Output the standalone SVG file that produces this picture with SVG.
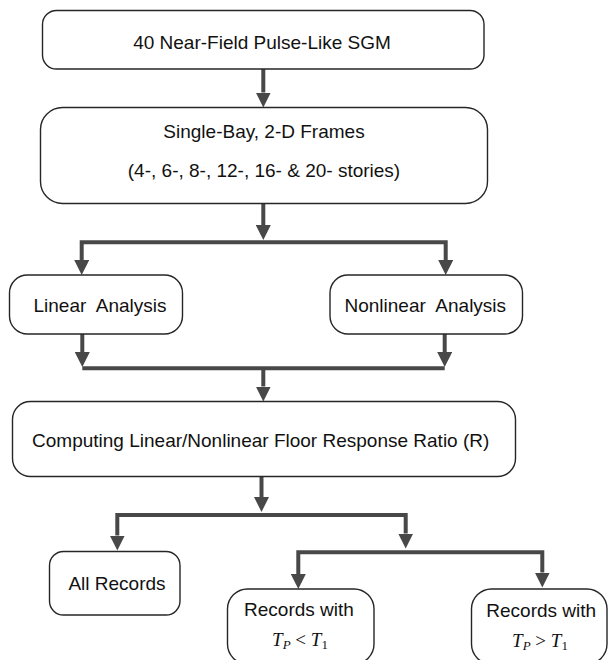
<svg xmlns="http://www.w3.org/2000/svg" width="608" height="660" viewBox="0 0 608 660">
<style>
.box{fill:#fff;stroke:#262626;stroke-width:1.4}
.lbl{font-family:"Liberation Sans",Arial,sans-serif;font-size:19px;fill:#111;text-anchor:middle}
.math{font-family:"Liberation Serif","Times New Roman",serif;font-size:19px;fill:#111;text-anchor:middle}
.it{font-style:italic}
.con{fill:none;stroke:#484848;stroke-width:4;stroke-linejoin:miter;marker-end:url(#ah)}
.ln{fill:none;stroke:#484848;stroke-width:4}
.both{marker-start:url(#ah)}
</style>
<defs>
<marker id="ah" markerUnits="userSpaceOnUse" markerWidth="15" markerHeight="15" viewBox="0 0 15 15" refX="0" refY="7.5" orient="auto-start-reverse">
<path d="M0,0 L15,7.5 L0,15 z" fill="#484848"/>
</marker>
</defs>
<rect width="608" height="660" fill="#fff"/>
<g id="connectors">
<path class="con" d="M263.3,69 V92.5"/>
<path class="con" d="M263.3,203.5 V225"/>
<path class="con both" d="M81.7,260 V242.3 H445.7 V260"/>
<path class="con" d="M82.3,334 V352"/>
<path class="con" d="M444.7,334 V352"/>
<path class="ln" d="M82.3,368.3 H444.7"/>
<path class="con" d="M263.3,368.3 V386.5"/>
<path class="con" d="M261.5,477 V497"/>
<path class="con both" d="M117.3,535.5 V515 H405.7 V533.5"/>
<path class="con both" d="M298.3,574 V552.3 H542.3 V572.5"/>
</g>
<g id="n1"><rect class="box" x="42.5" y="10.5" width="441.5" height="58.5" rx="14"/>
<text class="lbl" x="262" y="48.5">40 Near-Field Pulse-Like SGM</text></g>
<g id="n2"><rect class="box" x="40.5" y="107.5" width="447" height="96" rx="22"/>
<text class="lbl" x="264" y="137.5">Single-Bay, 2-D Frames</text>
<text class="lbl" x="264" y="176.5">(4-, 6-, 8-, 12-, 16- &amp; 20- stories)</text></g>
<g id="n3"><rect class="box" x="9.5" y="275" width="173" height="59" rx="18"/>
<text class="lbl" x="100" y="311.7" xml:space="preserve">Linear  Analysis</text></g>
<g id="n4"><rect class="box" x="330" y="275" width="192.5" height="59" rx="18"/>
<text class="lbl" x="425.3" y="311.7" xml:space="preserve">Nonlinear  Analysis</text></g>
<g id="n5"><rect class="box" x="12.5" y="401.5" width="503" height="75" rx="18"/>
<text class="lbl" x="260.7" y="446.7">Computing Linear/Nonlinear Floor Response Ratio (R)</text></g>
<g id="n6"><rect class="box" x="49.5" y="551.5" width="130.5" height="63.5" rx="14"/>
<text class="lbl" x="117" y="590">All Records</text></g>
<g id="n7"><rect class="box" x="227.5" y="589" width="146.5" height="75" rx="20"/>
<text class="lbl" x="299" y="615.5">Records with</text>
<text class="math" x="300" y="646"><tspan class="it">T</tspan><tspan class="it" font-size="13" dy="3">P</tspan><tspan dy="-3"> &lt; </tspan><tspan class="it">T</tspan><tspan font-size="13" dy="3">1</tspan></text></g>
<g id="n8"><rect class="box" x="471.5" y="589" width="135.5" height="75" rx="20"/>
<text class="lbl" x="541.2" y="617">Records with</text>
<text class="math" x="540" y="647"><tspan class="it">T</tspan><tspan class="it" font-size="13" dy="3">P</tspan><tspan dy="-3"> &gt; </tspan><tspan class="it">T</tspan><tspan font-size="13" dy="3">1</tspan></text></g>
</svg>
